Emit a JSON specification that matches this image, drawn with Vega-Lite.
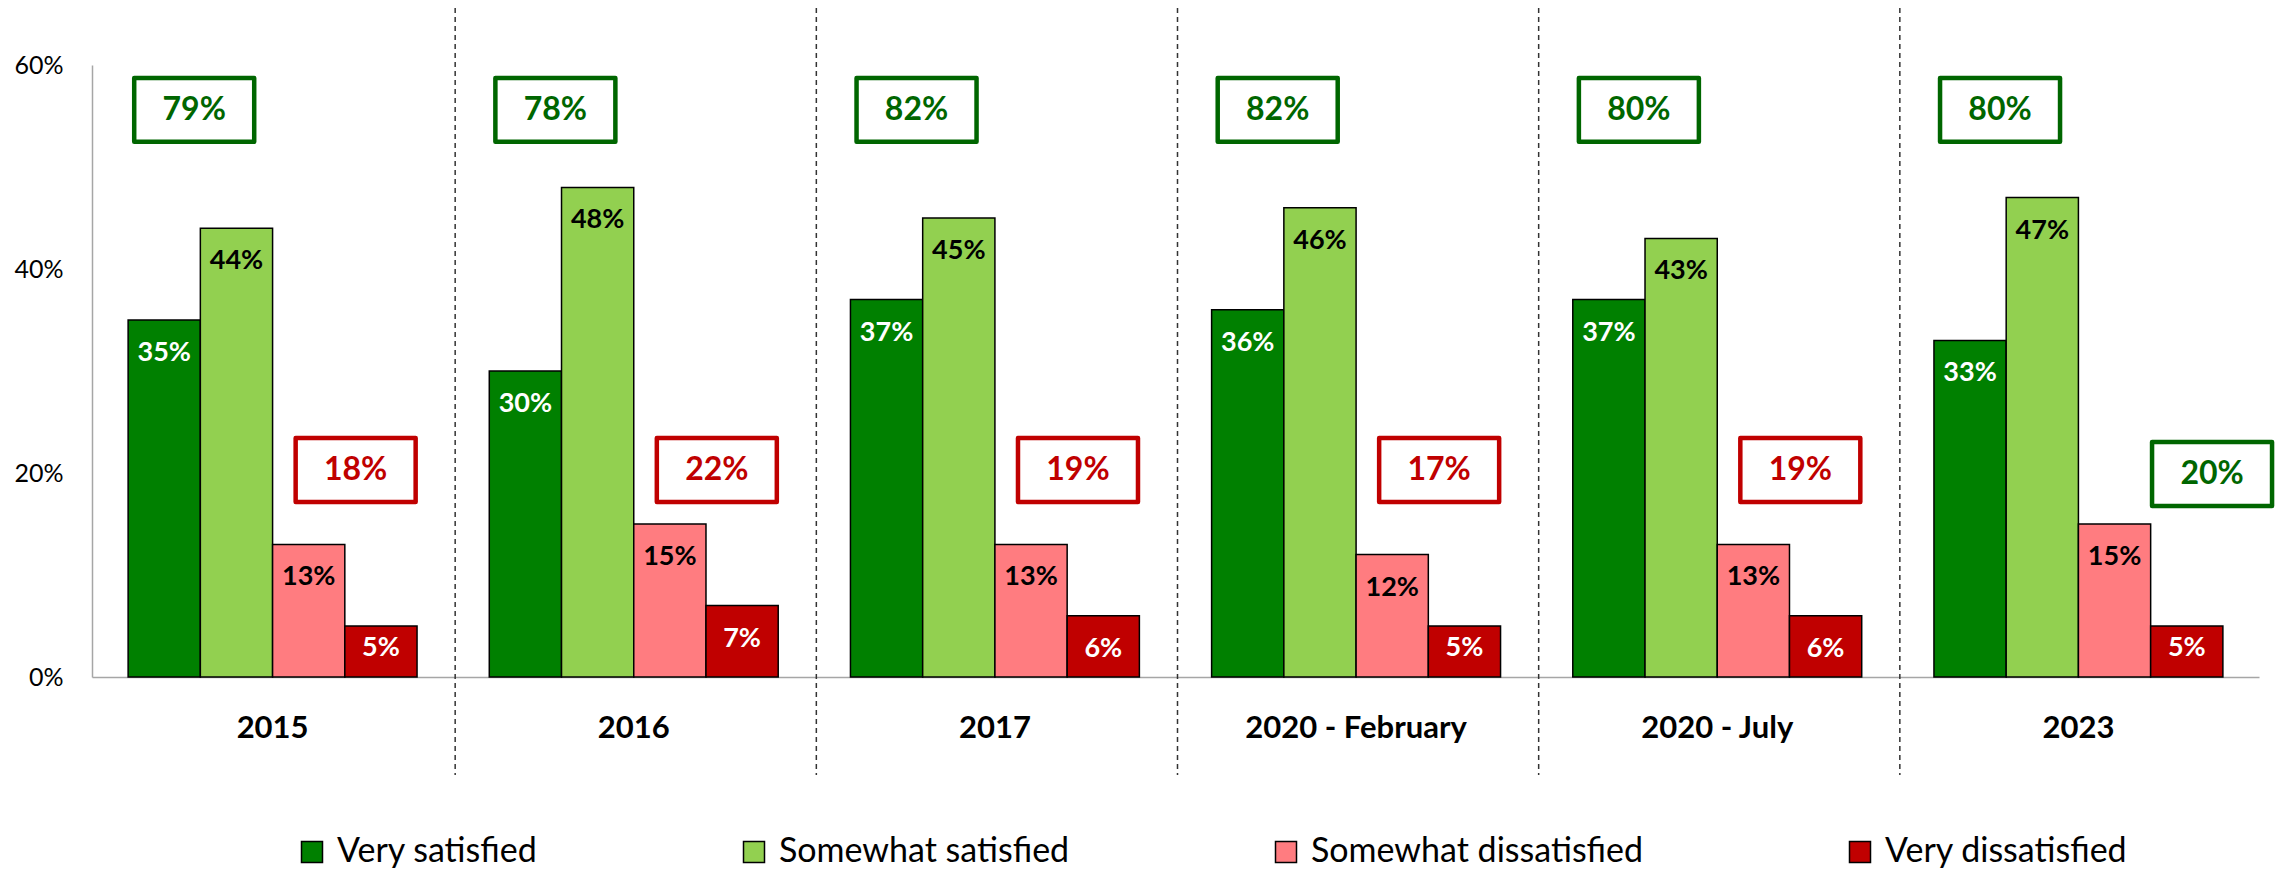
{
  "$schema": "https://vega.github.io/schema/vega-lite/v6.json",
  "autosize": {"type": "none"},
  "width": 2167,
  "height": 612,
  "padding": {"left": 92, "top": 65, "right": 26, "bottom": 193},
  "background": "white",
  "config": {"view": {"stroke": null}, "font": "Lato"},
  "datasets": {
    "bars": [
      {"group": "2015", "series": "Very satisfied", "value": 35},
      {"group": "2015", "series": "Somewhat satisfied", "value": 44},
      {"group": "2015", "series": "Somewhat dissatisfied", "value": 13},
      {"group": "2015", "series": "Very dissatisfied", "value": 5},
      {"group": "2016", "series": "Very satisfied", "value": 30},
      {"group": "2016", "series": "Somewhat satisfied", "value": 48},
      {"group": "2016", "series": "Somewhat dissatisfied", "value": 15},
      {"group": "2016", "series": "Very dissatisfied", "value": 7},
      {"group": "2017", "series": "Very satisfied", "value": 37},
      {"group": "2017", "series": "Somewhat satisfied", "value": 45},
      {"group": "2017", "series": "Somewhat dissatisfied", "value": 13},
      {"group": "2017", "series": "Very dissatisfied", "value": 6},
      {"group": "2020 - February", "series": "Very satisfied", "value": 36},
      {"group": "2020 - February", "series": "Somewhat satisfied", "value": 46},
      {"group": "2020 - February", "series": "Somewhat dissatisfied", "value": 12},
      {"group": "2020 - February", "series": "Very dissatisfied", "value": 5},
      {"group": "2020 - July", "series": "Very satisfied", "value": 37},
      {"group": "2020 - July", "series": "Somewhat satisfied", "value": 43},
      {"group": "2020 - July", "series": "Somewhat dissatisfied", "value": 13},
      {"group": "2020 - July", "series": "Very dissatisfied", "value": 6},
      {"group": "2023", "series": "Very satisfied", "value": 33},
      {"group": "2023", "series": "Somewhat satisfied", "value": 47},
      {"group": "2023", "series": "Somewhat dissatisfied", "value": 15},
      {"group": "2023", "series": "Very dissatisfied", "value": 5}
    ],
    "totals": [
      {"group": "2015", "side": "Satisfied", "total": 79, "tone": "green"},
      {"group": "2015", "side": "Dissatisfied", "total": 18, "tone": "red"},
      {"group": "2016", "side": "Satisfied", "total": 78, "tone": "green"},
      {"group": "2016", "side": "Dissatisfied", "total": 22, "tone": "red"},
      {"group": "2017", "side": "Satisfied", "total": 82, "tone": "green"},
      {"group": "2017", "side": "Dissatisfied", "total": 19, "tone": "red"},
      {"group": "2020 - February", "side": "Satisfied", "total": 82, "tone": "green"},
      {"group": "2020 - February", "side": "Dissatisfied", "total": 17, "tone": "red"},
      {"group": "2020 - July", "side": "Satisfied", "total": 80, "tone": "green"},
      {"group": "2020 - July", "side": "Dissatisfied", "total": 19, "tone": "red"},
      {"group": "2023", "side": "Satisfied", "total": 80, "tone": "green"},
      {"group": "2023", "side": "Dissatisfied", "total": 20, "tone": "green"}
    ]
  },
  "layer": [
    {
      "data": {"name": "bars"},
      "mark": {"type": "bar", "stroke": "#000000", "strokeWidth": 1.5},
      "encoding": {
        "x": {
          "field": "group", "type": "nominal", "sort": null,
          "scale": {"paddingInner": 0, "paddingOuter": 0},
          "axis": {
            "title": null, "labelAngle": 0, "ticks": false, "domainColor": "#a6a6a6", "domainWidth": 1.5,
            "bandPosition": 0.5, "labelAlign": "center", "labelLimit": 1000,
            "labelFont": "Lato", "labelFontWeight": "bold", "labelFontSize": 31, "labelColor": "#000000",
            "labelPadding": 36, "labelBaseline": "top"
          }
        },
        "xOffset": {
          "field": "series", "type": "nominal",
          "sort": ["Very satisfied", "Somewhat satisfied", "Somewhat dissatisfied", "Very dissatisfied"],
          "scale": {"paddingInner": 0, "paddingOuter": 0.5}
        },
        "y": {
          "field": "value", "type": "quantitative",
          "scale": {"domain": [0, 60], "nice": false},
          "axis": {
            "title": null, "values": [0, 20, 40, 60], "grid": false, "ticks": false, "tickSize": 0,
            "domainColor": "#a6a6a6", "domainWidth": 1.5,
            "labelExpr": "datum.value + '%'", "labelFont": "Lato", "labelFontSize": 25,
            "labelColor": "#000000", "labelPadding": 29
          }
        },
        "color": {
          "field": "series", "type": "nominal",
          "sort": ["Very satisfied", "Somewhat satisfied", "Somewhat dissatisfied", "Very dissatisfied"],
          "scale": {
            "domain": ["Very satisfied", "Somewhat satisfied", "Somewhat dissatisfied", "Very dissatisfied"],
            "range": ["#008000", "#92D050", "#FF7C80", "#C00000"]
          },
          "legend": {
            "title": null, "orient": "none", "direction": "horizontal", "legendX": 203, "legendY": 770,
            "symbolType": "square", "symbolSize": 441, "symbolStrokeColor": "#000000", "symbolStrokeWidth": 1.5,
            "symbolOpacity": 1, "labelFont": "Lato", "labelFontSize": 34, "labelColor": "#000000",
            "labelOffset": 8, "columnPadding": 199, "labelLimit": 600, "padding": 0
          }
        }
      }
    },
    {
      "data": {"name": "bars"},
      "transform": [{"filter": "datum.series == 'Very satisfied' && datum.group != '2015'"}],
      "mark": {"type": "rule", "color": "#333333", "strokeWidth": 1.5, "strokeDash": [5, 4], "xOffset": 2},
      "encoding": {
        "x": {"field": "group", "type": "nominal", "bandPosition": 0},
        "y": {"datum": 65.6},
        "y2": {"datum": -9.6}
      }
    },
    {
      "data": {"name": "bars"},
      "transform": [{"calculate": "datum.value + '%'", "as": "label"}],
      "encoding": {
        "x": {"field": "group", "type": "nominal"},
        "xOffset": {"field": "series", "type": "nominal",
          "sort": ["Very satisfied", "Somewhat satisfied", "Somewhat dissatisfied", "Very dissatisfied"]},
        "y": {"field": "value", "type": "quantitative"},
        "text": {"field": "label"},
        "color": {
          "condition": {"test": "datum.series == 'Very satisfied' || datum.series == 'Very dissatisfied'", "value": "#ffffff"},
          "value": "#000000"
        }
      },
      "layer": [
        {"transform": [{"filter": "datum.value >= 6"}],
         "mark": {"type": "text", "font": "Lato", "fontWeight": "bold", "fontSize": 27, "baseline": "middle", "dy": 33}},
        {"transform": [{"filter": "datum.value < 6"}],
         "mark": {"type": "text", "font": "Lato", "fontWeight": "bold", "fontSize": 27, "baseline": "middle", "dy": 22}}
      ]
    },
    {
      "data": {"name": "totals"},
      "transform": [{"filter": "datum.side == 'Satisfied'"}, {"calculate": "datum.total + '%'", "as": "label"}],
      "encoding": {
        "x": {"field": "group", "type": "nominal", "bandPosition": 0.283},
        "y": {"datum": 55.6}
      },
      "layer": [
        {"mark": {"type": "point", "shape": "M-1,-0.533L1,-0.533L1,0.533L-1,0.533Z", "size": 14400,
          "filled": true, "fill": "#ffffff", "stroke": "#006600", "strokeWidth": 4.5, "opacity": 1, "strokeJoin": "round"}},
        {"mark": {"type": "text", "font": "Lato", "fontWeight": "bold", "fontSize": 32, "baseline": "middle", "color": "#006600"},
          "encoding": {"text": {"field": "label"}}}
      ]
    },
    {
      "data": {"name": "totals"},
      "transform": [{"filter": "datum.side == 'Dissatisfied' && datum.tone == 'red'"}, {"calculate": "datum.total + '%'", "as": "label"}],
      "encoding": {
        "x": {"field": "group", "type": "nominal", "bandPosition": 0.73},
        "y": {"datum": 20.3}
      },
      "layer": [
        {"mark": {"type": "point", "shape": "M-1,-0.533L1,-0.533L1,0.533L-1,0.533Z", "size": 14400,
          "filled": true, "fill": "#ffffff", "stroke": "#C00000", "strokeWidth": 4.5, "opacity": 1, "strokeJoin": "round"}},
        {"mark": {"type": "text", "font": "Lato", "fontWeight": "bold", "fontSize": 32, "baseline": "middle", "color": "#C00000"},
          "encoding": {"text": {"field": "label"}}}
      ]
    },
    {
      "data": {"name": "totals"},
      "transform": [{"filter": "datum.side == 'Dissatisfied' && datum.tone == 'green'"}, {"calculate": "datum.total + '%'", "as": "label"}],
      "encoding": {
        "x": {"field": "group", "type": "nominal", "bandPosition": 0.87},
        "y": {"datum": 19.9}
      },
      "layer": [
        {"mark": {"type": "point", "shape": "M-1,-0.533L1,-0.533L1,0.533L-1,0.533Z", "size": 14400,
          "filled": true, "fill": "#ffffff", "stroke": "#006600", "strokeWidth": 4.5, "opacity": 1, "strokeJoin": "round"}},
        {"mark": {"type": "text", "font": "Lato", "fontWeight": "bold", "fontSize": 32, "baseline": "middle", "color": "#006600"},
          "encoding": {"text": {"field": "label"}}}
      ]
    }
  ]
}
